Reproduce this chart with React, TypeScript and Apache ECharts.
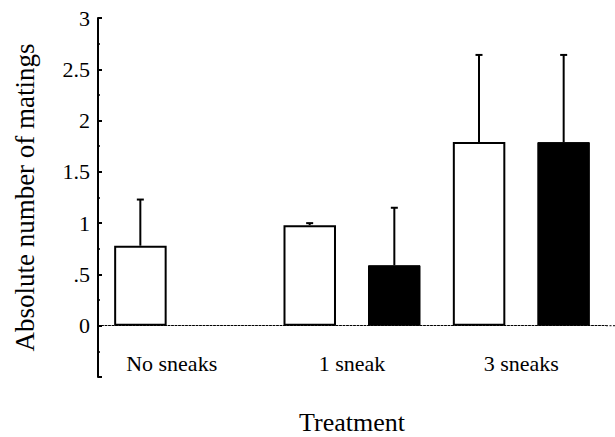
import React, { useEffect, useRef } from "react";
import * as echarts from "echarts";

const categories = ["No sneaks", "1 sneak", "3 sneaks"];
const whiteMeans = [0.78, 0.98, 1.79];
const whiteUpper = [1.23, 1.0, 2.64];
const blackMeans: (number | null)[] = [null, 0.59, 1.79];
const blackUpper: (number | null)[] = [null, 1.15, 2.64];
const yTicks = [-0.5, 0, 0.5, 1, 1.5, 2, 2.5, 3];

const FONT = "'Liberation Serif', 'Times New Roman', Times, serif";

export default function App() {
  const ref = useRef<HTMLDivElement>(null);
  useEffect(() => {
    if (!ref.current) return;
    const chart = echarts.init(ref.current, undefined, { renderer: "svg" });

    const errData: any[] = [];
    categories.forEach((_, i) => {
      errData.push([i, whiteMeans[i], whiteUpper[i], -1]);
      if (blackMeans[i] != null && blackUpper[i] != null) {
        errData.push([i, blackMeans[i], blackUpper[i], 1]);
      }
    });

    const rich = {
      t: { fontFamily: FONT, fontSize: 22, color: "#000", fontWeight: "normal" },
      f: { fontFamily: FONT, fontSize: 22, color: "#000", fontWeight: "normal", padding: [0, 22, 0, 0] },
    };

    const option: any = {
      animation: false,
      backgroundColor: "#fff",
      textStyle: { fontFamily: FONT },
      grid: { left: 98, right: 9, top: 18, bottom: 60, containLabel: false, outerBoundsMode: "none" },
      xAxis: {
        type: "category",
        data: categories,
        name: "Treatment",
        nameLocation: "middle",
        nameGap: 32,
        nameTextStyle: { fontFamily: FONT, fontSize: 26, color: "#000" },
        axisLine: {
          onZero: true,
          lineStyle: { color: "#000", width: 1, type: [2, 1.5] },
        },
        axisTick: { show: false },
        axisLabel: {
          fontFamily: FONT,
          fontSize: 22,
          color: "#000",
          margin: -25,
          formatter: (v: string, i: number) => (i === 0 ? `{f|${v}}` : `{t|${v}}`),
          rich,
        },
        splitLine: { show: false },
      },
      yAxis: {
        type: "value",
        min: yTicks[0],
        max: yTicks[yTicks.length - 1],
        interval: 0.5,
        name: "Absolute number of matings",
        nameLocation: "middle",
        nameGap: 60,
        nameTextStyle: { fontFamily: FONT, fontSize: 27, color: "#000" },
        axisLine: { show: true, onZero: false, lineStyle: { color: "#000", width: 2 } },
        axisTick: { show: true, inside: true, length: 4, lineStyle: { color: "#000", width: 2 } },
        minorTick: { show: true, splitNumber: 2, length: 2, lineStyle: { color: "#000", width: 1.5 } },
        axisLabel: {
          fontFamily: FONT,
          fontSize: 22,
          color: "#000",
          margin: 8,
          rich,
          formatter: (v: number) => {
            if (v < 0) return "";
            if (v === 0.5) return "{t|.5}";
            return `{t|${v}}`;
          },
        },
        splitLine: { show: false },
      },
      series: [
        {
          type: "bar",
          data: whiteMeans,
          barWidth: "31%",
          barGap: "61%",
          itemStyle: { color: "#fff", borderColor: "#000", borderWidth: 2 },
        },
        {
          type: "bar",
          data: blackMeans.map((v) => (v == null ? "-" : v)),
          barWidth: "31%",
          barGap: "61%",
          itemStyle: { color: "#000", borderColor: "#000", borderWidth: 1 },
        },
        {
          type: "custom",
          data: errData,
          encode: { x: 0, y: [1, 2] },
          z: 3,
          renderItem: (params: any, api: any) => {
            const cat = api.value(0);
            const mean = api.value(1);
            const up = api.value(2);
            const side = api.value(3);
            const p0 = api.coord([cat, mean]);
            const p1 = api.coord([cat, up]);
            const band = api.size([1, 0])[0];
            const x = p0[0] + side * band * 0.25;
            const style = { stroke: "#000", lineWidth: 2 };
            return {
              type: "group",
              children: [
                { type: "line", shape: { x1: x, y1: p0[1], x2: x, y2: p1[1] }, style },
                { type: "line", shape: { x1: x - 3.5, y1: p1[1], x2: x + 3.5, y2: p1[1] }, style },
              ],
            };
          },
        },
      ],
    };
    chart.setOption(option);

    // extend the dotted zero line to the right edge of the picture
    const zeroY = chart.convertToPixel({ yAxisIndex: 0 }, 0) as number;
    const gridRight = chart.getWidth() - 9;
    chart.setOption({
      graphic: [
        {
          type: "line",
          shape: { x1: gridRight, y1: zeroY, x2: chart.getWidth(), y2: zeroY },
          style: { stroke: "#000", lineWidth: 1, lineDash: [2, 1.5] },
        },
      ],
    });

    return () => chart.dispose();
  }, []);
  return <div ref={ref} style={{ width: 615, height: 437, position: "absolute", left: 0, top: 0 }} />;
}
